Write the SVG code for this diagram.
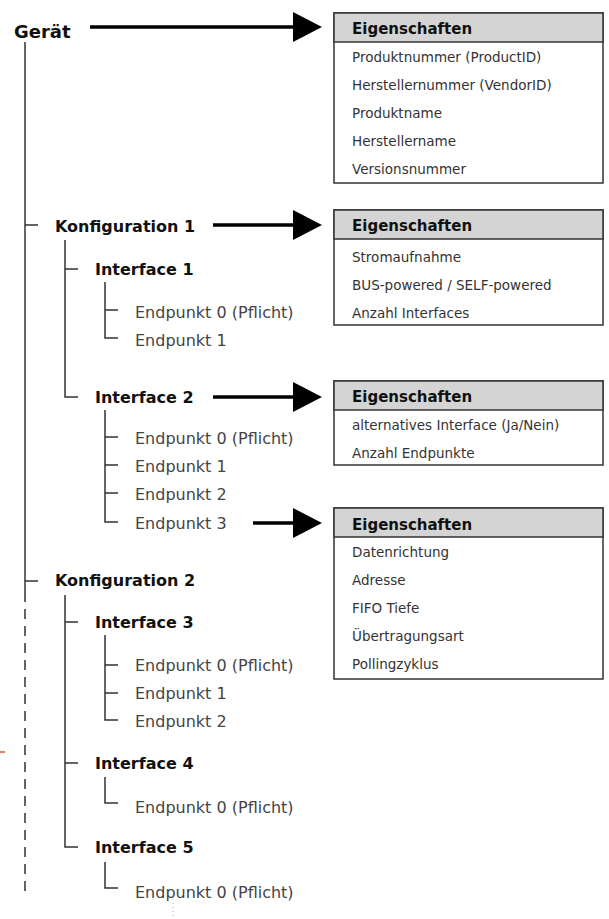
<svg xmlns="http://www.w3.org/2000/svg" width="609" height="919" viewBox="0 0 609 919">
<style>
text{font-family:"DejaVu Sans","Verdana",sans-serif}
.root{font-size:18px;font-weight:bold;fill:#111}
.k{font-size:16px;font-weight:bold;fill:#111}
.e{font-size:16px;fill:#444}
.h{font-size:15px;font-weight:bold;fill:#111}
.i{font-size:13.5px;fill:#333}
.tree{stroke:#333;stroke-width:1.5;fill:none}
.arr{stroke:#000;stroke-width:3.5;fill:none}
.head{fill:#000}
.box{fill:#fff;stroke:#333;stroke-width:1.5}
.hdr{fill:#d4d4d4;stroke:#333;stroke-width:1.5}
</style>
<g id="connectors">
<path class="tree" d="M25 42 V592"/>
<path class="tree" d="M25 592 V891" stroke-dasharray="10 7"/>
<path class="tree" d="M25 225 H38 M25 581 H38"/>
<path class="tree" d="M65 240 V397 H78 M65 269 H78"/>
<path class="tree" d="M105 282 V338 H118 M105 310 H118"/>
<path class="tree" d="M105 410 V522 H118 M105 437 H118 M105 465 H118 M105 493 H118"/>
<path class="tree" d="M65 595 V847 H78 M65 622 H78 M65 763 H78"/>
<path class="tree" d="M105 635 V720 H118 M105 665 H118 M105 693 H118"/>
<path class="tree" d="M105 777 V803 H118"/>
<path class="tree" d="M105 862 V888 H118"/>
<path class="arr" d="M90 27 H296"/>
<polygon class="head" points="293,12 322,27 293,42"/>
<path class="arr" d="M213 225 H296"/>
<polygon class="head" points="293,210 322,225 293,240"/>
<path class="arr" d="M213 397 H296"/>
<polygon class="head" points="293,382 322,397 293,412"/>
<path class="arr" d="M253 523 H296"/>
<polygon class="head" points="293,508 322,523 293,538"/>
<path d="M0 752 H5" stroke="#e8845a" stroke-width="2"/>
<path d="M173 903 V919" stroke="#aaa" stroke-width="1" stroke-dasharray="1 3"/>
</g>
<g id="geraet"><text class="root" x="14" y="38">Gerät</text></g>
<g id="konfiguration1"><text class="k" x="55" y="232">Konfiguration 1</text></g>
<g id="interface1"><text class="k" x="95" y="275">Interface 1</text></g>
<g id="if1-ep0"><text class="e" x="135" y="318">Endpunkt 0 (Pflicht)</text></g>
<g id="if1-ep1"><text class="e" x="135" y="346">Endpunkt 1</text></g>
<g id="interface2"><text class="k" x="95" y="403">Interface 2</text></g>
<g id="if2-ep0"><text class="e" x="135" y="444">Endpunkt 0 (Pflicht)</text></g>
<g id="if2-ep1"><text class="e" x="135" y="472">Endpunkt 1</text></g>
<g id="if2-ep2"><text class="e" x="135" y="500">Endpunkt 2</text></g>
<g id="if2-ep3"><text class="e" x="135" y="529">Endpunkt 3</text></g>
<g id="konfiguration2"><text class="k" x="55" y="586">Konfiguration 2</text></g>
<g id="interface3"><text class="k" x="95" y="628">Interface 3</text></g>
<g id="if3-ep0"><text class="e" x="135" y="671">Endpunkt 0 (Pflicht)</text></g>
<g id="if3-ep1"><text class="e" x="135" y="699">Endpunkt 1</text></g>
<g id="if3-ep2"><text class="e" x="135" y="727">Endpunkt 2</text></g>
<g id="interface4"><text class="k" x="95" y="769">Interface 4</text></g>
<g id="if4-ep0"><text class="e" x="135" y="813">Endpunkt 0 (Pflicht)</text></g>
<g id="interface5"><text class="k" x="95" y="853">Interface 5</text></g>
<g id="if5-ep0"><text class="e" x="135" y="898">Endpunkt 0 (Pflicht)</text></g>
<g id="box-geraet">
<rect class="box" x="334" y="13" width="269" height="170"/>
<rect class="hdr" x="334" y="13" width="269" height="29"/>
<text class="h" x="352" y="34">Eigenschaften</text>
<text class="i" x="352" y="62">Produktnummer (ProductID)</text>
<text class="i" x="352" y="90">Herstellernummer (VendorID)</text>
<text class="i" x="352" y="118">Produktname</text>
<text class="i" x="352" y="146">Herstellername</text>
<text class="i" x="352" y="174">Versionsnummer</text>
</g>
<g id="box-konfiguration">
<rect class="box" x="334" y="210" width="269" height="115"/>
<rect class="hdr" x="334" y="210" width="269" height="29"/>
<text class="h" x="352" y="231">Eigenschaften</text>
<text class="i" x="352" y="262">Stromaufnahme</text>
<text class="i" x="352" y="290">BUS-powered / SELF-powered</text>
<text class="i" x="352" y="318">Anzahl Interfaces</text>
</g>
<g id="box-interface">
<rect class="box" x="334" y="381" width="269" height="84"/>
<rect class="hdr" x="334" y="381" width="269" height="29"/>
<text class="h" x="352" y="402">Eigenschaften</text>
<text class="i" x="352" y="430">alternatives Interface (Ja/Nein)</text>
<text class="i" x="352" y="458">Anzahl Endpunkte</text>
</g>
<g id="box-endpunkt">
<rect class="box" x="334" y="508" width="269" height="171"/>
<rect class="hdr" x="334" y="508" width="269" height="29"/>
<text class="h" x="352" y="530">Eigenschaften</text>
<text class="i" x="352" y="557">Datenrichtung</text>
<text class="i" x="352" y="585">Adresse</text>
<text class="i" x="352" y="613">FIFO Tiefe</text>
<text class="i" x="352" y="641">Übertragungsart</text>
<text class="i" x="352" y="669">Pollingzyklus</text>
</g>
</svg>
